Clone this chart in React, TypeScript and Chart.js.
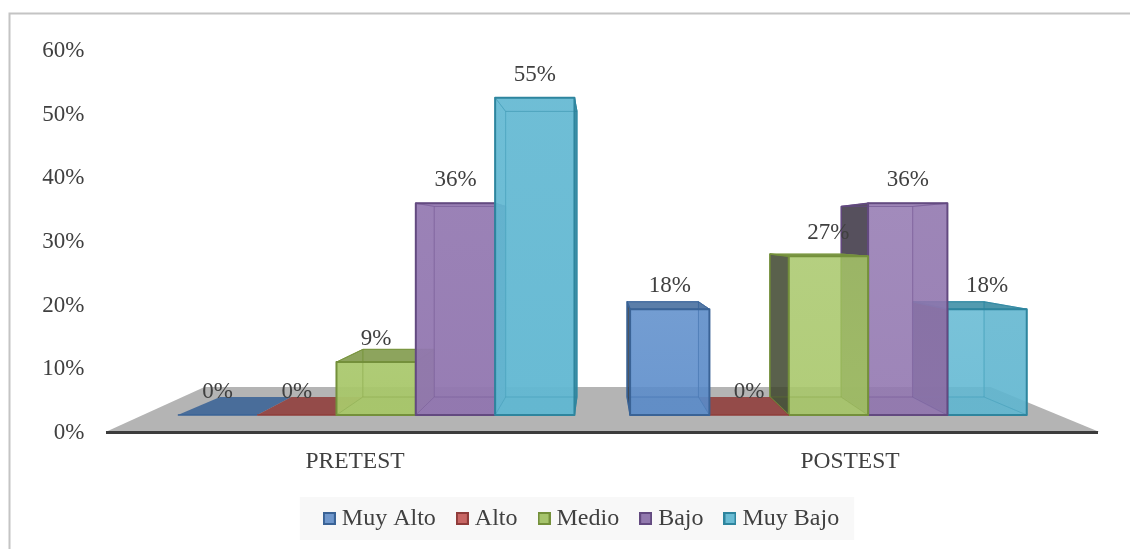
import React, { useEffect, useRef } from "react";
import { Chart, registerables } from "chart.js";

Chart.register(...registerables);

const categories = ["PRETEST", "POSTEST"];
const muyAlto = [0, 18.2];
const alto = [0, 0];
const medio = [9.1, 27.3];
const bajo = [36.4, 36.4];
const muyBajo = [54.55, 18.2];
const seriesNames = ["Muy Alto", "Alto", "Medio", "Bajo", "Muy Bajo"];
const seriesValues = [muyAlto, alto, medio, bajo, muyBajo];
const yTicksMax = 60;

const baseColors = ["#5b8cca", "#c85f5c", "#a8c76a", "#9277b0", "#62b8d2"];
const darkColors = ["#3a6396", "#8f3c3a", "#74903b", "#634a80", "#2e859e"];
const legendFill = ["#6f97cc", "#c86664", "#a6c46c", "#9279ae", "#6abcd4"];

const FONT = '"Liberation Serif", "Times New Roman", serif';
const TEXT = "#404040";
const VP = { x: 600, y: 235 };
const S_FRONT = 0.9137;
const S_BACK = 0.8223;

function rgba(hex: string, a: number) {
  const n = parseInt(hex.slice(1), 16);
  return `rgba(${(n >> 16) & 255},${(n >> 8) & 255},${n & 255},${a})`;
}

function proj(x: number, y: number, s: number): [number, number] {
  return [VP.x + (x - VP.x) * s, VP.y + (y - VP.y) * s];
}

function poly(ctx: CanvasRenderingContext2D, pts: [number, number][], fill: any, stroke?: string, lw = 1) {
  ctx.beginPath();
  pts.forEach((p, i) => (i ? ctx.lineTo(p[0], p[1]) : ctx.moveTo(p[0], p[1])));
  ctx.closePath();
  if (fill) {
    ctx.fillStyle = fill;
    ctx.fill();
  }
  if (stroke) {
    ctx.strokeStyle = stroke;
    ctx.lineWidth = lw;
    ctx.lineJoin = "round";
    ctx.stroke();
  }
}

function drawBar(ctx: CanvasRenderingContext2D, el: any, base: string, dark: string) {
  const l = el.x - el.width / 2;
  const r = el.x + el.width / 2;
  const t = el.y;
  const b = el.base;
  const fBL = proj(l, b, S_FRONT), fBR = proj(r, b, S_FRONT), fTL = proj(l, t, S_FRONT), fTR = proj(r, t, S_FRONT);
  const bBL = proj(l, b, S_BACK), bBR = proj(r, b, S_BACK), bTL = proj(l, t, S_BACK), bTR = proj(r, t, S_BACK);

  if (b - t < 1) {
    poly(ctx, [fBL, fBR, bBR, bBL], rgba(dark, 0.88));
    ctx.beginPath();
    ctx.moveTo(fBL[0], fBL[1]);
    ctx.lineTo(fBR[0], fBR[1]);
    ctx.strokeStyle = dark;
    ctx.lineWidth = 1.5;
    ctx.stroke();
    return;
  }

  const isLeft = el.x < VP.x;
  poly(ctx, [fBL, fBR, bBR, bBL], rgba(dark, 0.3), rgba(dark, 0.35), 1);
  poly(ctx, [bBL, bBR, bTR, bTL], rgba(base, 0.18), rgba(base, 0.7), 1);
  const leftWall: [number, number][] = [fBL, bBL, bTL, fTL];
  const rightWall: [number, number][] = [fBR, bBR, bTR, fTR];
  if (isLeft) {
    poly(ctx, leftWall, rgba(base, 0.16), rgba(base, 0.7), 1);
    poly(ctx, rightWall, rgba(dark, 0.85), rgba(dark, 0.9), 1);
  } else {
    poly(ctx, leftWall, rgba(dark, 0.55));
    poly(ctx, leftWall, "rgba(40,40,40,0.62)", rgba(dark, 0.95), 1.5);
    poly(ctx, rightWall, rgba(dark, 0.3), rgba(base, 0.7), 1);
  }
  const seenFromAbove = fTL[1] > bTL[1];
  poly(ctx, [fTL, fTR, bTR, bTL], rgba(dark, seenFromAbove ? 0.8 : 0.12), rgba(dark, 0.85), 1);
  const g = ctx.createLinearGradient(0, fTL[1], 0, fBL[1]);
  g.addColorStop(0, rgba(base, isLeft ? 0.9 : 0.82));
  g.addColorStop(1, rgba(base, isLeft ? 0.95 : 0.88));
  poly(ctx, [fBL, fBR, fTR, fTL], g, dark, 2);
  // inner edges stay faintly visible through the glassy front
  poly(ctx, [bBL, bBR, bTR, bTL], null, rgba(dark, 0.3), 1);
  ctx.beginPath();
  [[fBL, bBL], [fBR, bBR], [fTL, bTL], [fTR, bTR]].forEach(([p, q]) => {
    ctx.moveTo(p[0], p[1]);
    ctx.lineTo(q[0], q[1]);
  });
  ctx.strokeStyle = rgba(dark, 0.3);
  ctx.lineWidth = 1;
  ctx.stroke();
}

const box3d = {
  id: "box3d",
  afterLayout(chart: any) {
    // the tick labels reach further left than the padding that centres the legend
    chart.scales.y.left = 30;
  },
  beforeDraw(chart: any) {
    const { ctx, chartArea: a, legend } = chart;
    chart.scales.y.getLabelItems(a).forEach((it: any) => {
      it.textOffset = 1;
    });
    ctx.save();
    ctx.fillStyle = "#ffffff";
    ctx.fillRect(0, 0, chart.width, chart.height);
    ctx.strokeStyle = "#c4c4c4";
    ctx.lineWidth = 2;
    ctx.beginPath();
    ctx.moveTo(9.5, chart.height);
    ctx.lineTo(9.5, 13.5);
    ctx.lineTo(chart.width, 13.5);
    ctx.stroke();
    poly(ctx, [
      [a.left - 2, a.bottom],
      [a.right + 2, a.bottom],
      [a.right - 107, a.bottom - 45],
      [a.left + 97, a.bottom - 45],
    ], "#b4b4b4");
    const hb = legend.legendHitBoxes;
    if (hb && hb.length) {
      const first = hb[0];
      const last = hb[hb.length - 1];
      const x0 = first.left - 29;
      const x1 = last.left + last.width + 15;
      ctx.fillStyle = "#f8f8f8";
      ctx.fillRect(x0, first.top + first.height / 2 - 21.5, x1 - x0, 43);
    }
    ctx.restore();
  },
  beforeDatasetsDraw(chart: any) {
    const { ctx } = chart;
    const n = chart.data.datasets.length;
    ctx.save();
    categories.forEach((_, c) => {
      const order = [...Array(n).keys()];
      if (c === 1) order.reverse();
      order.forEach((d) => {
        drawBar(ctx, chart.getDatasetMeta(d).data[c], baseColors[d], darkColors[d]);
      });
    });
    ctx.font = `23px ${FONT}`;
    ctx.fillStyle = TEXT;
    ctx.textAlign = "center";
    ctx.textBaseline = "middle";
    categories.forEach((_, c) => {
      for (let d = 0; d < n; d++) {
        const el = chart.getDatasetMeta(d).data[c];
        const p = proj(el.x, el.y, S_FRONT);
        ctx.fillText(`${Math.round(seriesValues[d][c])}%`, p[0], p[1] - 23);
      }
    });
    ctx.restore();
    return false;
  },
};

function legendMarker(i: number) {
  const c = document.createElement("canvas");
  c.width = 13;
  c.height = 13;
  const x = c.getContext("2d")!;
  x.fillStyle = legendFill[i];
  x.fillRect(1, 1, 11, 11);
  x.strokeStyle = darkColors[i];
  x.lineWidth = 2;
  x.strokeRect(1, 1, 11, 11);
  return c;
}

export default function App() {
  const ref = useRef<HTMLCanvasElement>(null);
  useEffect(() => {
    const chart = new Chart(ref.current!, {
      type: "bar",
      data: {
        labels: categories,
        datasets: seriesNames.map((label, i) => ({
          label,
          data: seriesValues[i],
          backgroundColor: baseColors[i],
          borderColor: darkColors[i],
          categoryPercentage: 0.877,
          barPercentage: 1,
        })),
      },
      plugins: [box3d],
      options: {
        animation: false,
        responsive: false,
        layout: { padding: { left: 70.5, right: 32.5, top: 50, bottom: 8.5 } },
        plugins: {
          tooltip: { enabled: false },
          legend: {
            position: "bottom",
            onClick: () => {},
            labels: {
              usePointStyle: true,
              boxWidth: 1,
              boxHeight: 13,
              padding: 26,
              color: TEXT,
              font: { family: FONT, size: 24 },
              generateLabels: () =>
                seriesNames.map((text, i) => ({
                  text,
                  fillStyle: baseColors[i],
                  strokeStyle: darkColors[i],
                  pointStyle: legendMarker(i),
                  datasetIndex: i,
                  hidden: false,
                  fontColor: TEXT,
                })),
            },
          },
        },
        scales: {
          x: {
            grid: { display: false, drawTicks: false },
            border: { display: true, color: "#3c3c3c", width: 3 },
            ticks: { color: TEXT, padding: 16, font: { family: FONT, size: 23.5 }, maxRotation: 0 },
            afterFit: (s: any) => {
              s.height = 48.5;
            },
          },
          y: {
            min: 0,
            max: yTicksMax,
            grid: { display: false, drawTicks: false },
            border: { display: false },
            ticks: {
              stepSize: 10,
              color: TEXT,
              padding: 23,
              font: { family: FONT, size: 23 },
              callback: (v: any) => `${v}%`,
            },
            afterFit: (s: any) => {
              s.width = 37;
            },
          },
        },
      },
    } as any);
    return () => chart.destroy();
  }, []);
  return (
    <div style={{ position: "absolute", left: 0, top: 0, width: 1130, height: 549, overflow: "hidden", background: "#fff" }}>
      <canvas ref={ref} width={1130} height={549} style={{ display: "block" }} />
    </div>
  );
}
